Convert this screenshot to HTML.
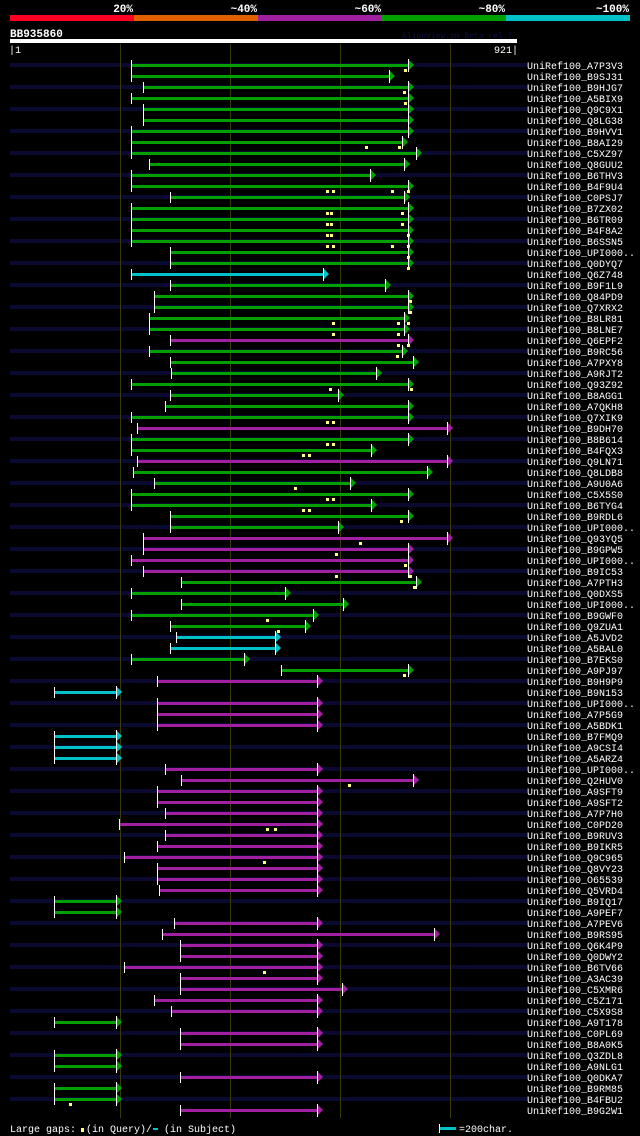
<!DOCTYPE html>
<html><head><meta charset="utf-8"><style>
html,body{margin:0;padding:0;background:#000;width:640px;height:1136px;overflow:hidden}
svg{display:block}
text{font-family:"Liberation Mono",monospace}
</style></head><body>
<svg id="chart" width="640" height="1136" xmlns="http://www.w3.org/2000/svg" shape-rendering="crispEdges">
<rect x="0" y="0" width="640" height="1136" fill="#000"/>
</svg>
<script>
const labels=["A7P3V3","B9SJ31","B9HJG7","A5BIX9","Q9C9X1","Q8LG38","B9HVV1","B8AI29","C5XZ97","Q8GUU2","B6THV3","B4F9U4","C0PSJ7","B7ZX02","B6TR09","B4F8A2","B6SSN5","UPI000..","Q0DYQ7","Q6Z748","B9F1L9","Q84PD9","Q7XRX2","B8LR81","B8LNE7","Q6EPF2","B9RC56","A7PXY8","A9RJT2","Q93Z92","B8AGG1","A7QKH8","Q7XIK9","B9DH70","B8B614","B4FQX3","Q9LN71","Q8LDB8","A9U0A6","C5X5S0","B6TYG4","B9RDL6","UPI000..","Q93YQ5","B9GPW5","UPI000..","B9IC53","A7PTH3","Q0DXS5","UPI000..","B9GWF0","Q9ZUA1","A5JVD2","A5BAL0","B7EKS0","A9PJ97","B9H9P9","B9N153","UPI000..","A7P5G9","A5BDK1","B7FMQ9","A9CSI4","A5ARZ4","UPI000..","Q2HUV0","A9SFT9","A9SFT2","A7P7H0","C0PD20","B9RUV3","B9IKR5","Q9C965","Q8VY23","O65539","Q5VRD4","B9IQ17","A9PEF7","A7PEV6","B9RS95","Q6K4P9","Q0DWY2","B6TV66","A3AC39","C5XMR6","C5Z171","C5X9S8","A9T178","C0PL69","B8A0K5","Q3ZDL8","A9NLG1","Q0DKA7","B9RM85","B4FBU2","B9G2W1"];
const starts=[220,220,243,220,243,243,220,220,220,254,220,220,291,220,220,220,220,291,291,220,291,263,263,254,254,291,254,291,294,220,291,282,220,231,220,220,231,225,263,220,220,291,291,243,243,220,243,312,220,312,220,291,303,291,220,492,267,80,267,267,267,80,80,80,282,312,267,267,282,198,282,267,207,267,267,271,80,80,298,276,309,309,207,309,309,262,294,80,309,309,80,80,309,80,80,309];
const ends=[732,698,732,732,732,732,732,721,747,725,663,732,725,732,732,732,732,732,732,578,690,732,732,725,725,732,721,741,674,732,605,732,732,803,732,665,803,767,627,732,665,732,605,803,732,732,732,747,509,614,560,545,491,491,434,732,567,203,567,567,567,203,203,203,567,741,567,567,567,567,567,567,567,567,567,567,203,203,567,779,567,567,567,567,612,567,567,203,567,567,203,203,567,203,203,567];
const identity=["G","G","G","G","G","G","G","G","G","G","G","G","G","G","G","G","G","G","G","C","G","G","G","G","G","M","G","G","G","G","G","G","G","M","G","G","M","G","G","G","G","G","G","M","M","M","M","G","G","G","G","G","C","C","G","G","M","C","M","M","M","C","C","C","M","M","M","M","M","M","M","M","M","M","M","M","G","G","M","M","M","M","M","M","M","M","M","G","M","M","G","G","M","G","G","M"];
const queryGaps=[[718],[],[716],[718],[],[],[],[647,707],[],[],[],[576,587,694,723],[],[576,583,712],[576,583,712],[576,583,723],[576,587,694,723],[723],[723],[],[],[727],[727],[587,705,723],[587,705],[705,723],[703],[],[],[581,728],[],[],[576,587],[],[576,587],[532,543],[],[],[518],[576,587],[532,543],[710],[],[636],[592],[718],[592,727],[734],[],[],[467],[487],[],[],[],[716],[],[],[],[],[],[],[],[],[],[616],[],[],[],[467,481],[],[],[461],[],[],[],[],[],[],[],[],[],[461],[],[],[],[],[],[],[],[],[],[],[],[109],[]];
const pctLabels=["20%","~40%","~60%","~80%","~100%"];
const QLEN=921;

const NS="http://www.w3.org/2000/svg";
const svg=document.getElementById('chart');
const X0=10,X1=517;
function xs(r){return X0+(r-1)*(X1-X0)/(QLEN-1);}
function rowY(i){return 65+i*11;}
const colors={G:"#00a000",M:"#a020a0",C:"#00c0c8"};
function mk(tag,attrs,parent){const e=document.createElementNS(NS,tag);for(const k in attrs)e.setAttribute(k,attrs[k]);(parent||svg).appendChild(e);return e;}

const segCols=["#ff0022","#e06000","#a020a0","#00a000","#00c0c8"];
for(let k=0;k<5;k++){
  const r=mk('rect',{x:10+k*124,y:15,width:124,height:6,fill:segCols[k]});
  
  
  const t=mk('text',{x:10+(k+1)*124-1,y:12,fill:'#fff','font-size':'11','font-weight':'bold','text-anchor':'end'});
  t.textContent=pctLabels[k];
  
  
}
let t=mk('text',{x:10,y:37,fill:'#fff','font-size':'11','font-weight':'bold'});t.textContent="BB935860";

t=mk('text',{x:402,y:38,fill:'#101040','font-size':'8'});t.textContent="AlignView.pm Beta rel.7";

let q=mk('rect',{x:10,y:39,width:507,height:4,fill:'#fff'});

t=mk('text',{x:9,y:53,fill:'#fff','font-size':'10'});t.textContent="|1";

t=mk('text',{x:518,y:53,fill:'#fff','font-size':'10','text-anchor':'end'});t.textContent="921|";


for(let i=0;i<labels.length;i+=2){
  const r=mk('rect',{x:10,y:rowY(i)-2,width:517,height:4,fill:'#0a0a30'});
  
}
[200,400,600,800].forEach(v=>{
  const x=Math.round(xs(v));
  const l=mk('rect',{x:x,y:44,width:1,height:1074,fill:'#3a3a08'});
  
});

for(let i=0;i<labels.length;i++){
  const y=rowY(i),c=colors[identity[i]];
  const sx=Math.round(xs(starts[i])),ex=Math.round(xs(ends[i]));
  const g=mk('g',{});
  
  
  mk('rect',{x:sx,y:y-1,width:ex-5-sx,height:3,fill:c},g);
  mk('rect',{x:sx,y:y-5,width:1,height:11,fill:'#fff'},g);
  mk('polygon',{points:`${ex-5},${y-6} ${ex+1},${y} ${ex-5},${y+6}`,fill:c,'shape-rendering':'auto'},g);
  mk('rect',{x:ex-5,y:y-6,width:1,height:13,fill:'#fff'},g);
  queryGaps[i].forEach(gp=>{
    const gx=Math.round(xs(gp));
    const m=mk('rect',{x:gx-1,y:y+4,width:3,height:3,fill:'#ffff80'},g);
    
  });
  const lt=mk('text',{x:527,y:y+4,fill:'#fff','font-size':'10'});
  lt.textContent="UniRef100_"+labels[i];
  
}

t=mk('text',{x:10,y:1132,fill:'#fff','font-size':'10'});t.textContent="Large gaps:";

let m=mk('rect',{x:81,y:1128,width:3,height:4,fill:'#ffff80'});

t=mk('text',{x:86,y:1132,fill:'#fff','font-size':'10'});t.textContent="(in Query)/";

m=mk('rect',{x:153,y:1128,width:5,height:2,fill:'#00c0c8'});

t=mk('text',{x:164,y:1132,fill:'#fff','font-size':'10'});t.textContent="(in Subject)";

m=mk('rect',{x:440,y:1127,width:16,height:3,fill:'#00c0c8'});

mk('rect',{x:439,y:1124,width:1,height:9,fill:'#fff'});
t=mk('text',{x:459,y:1132,fill:'#fff','font-size':'10'});t.textContent="=200char.";

</script>
</body></html>
